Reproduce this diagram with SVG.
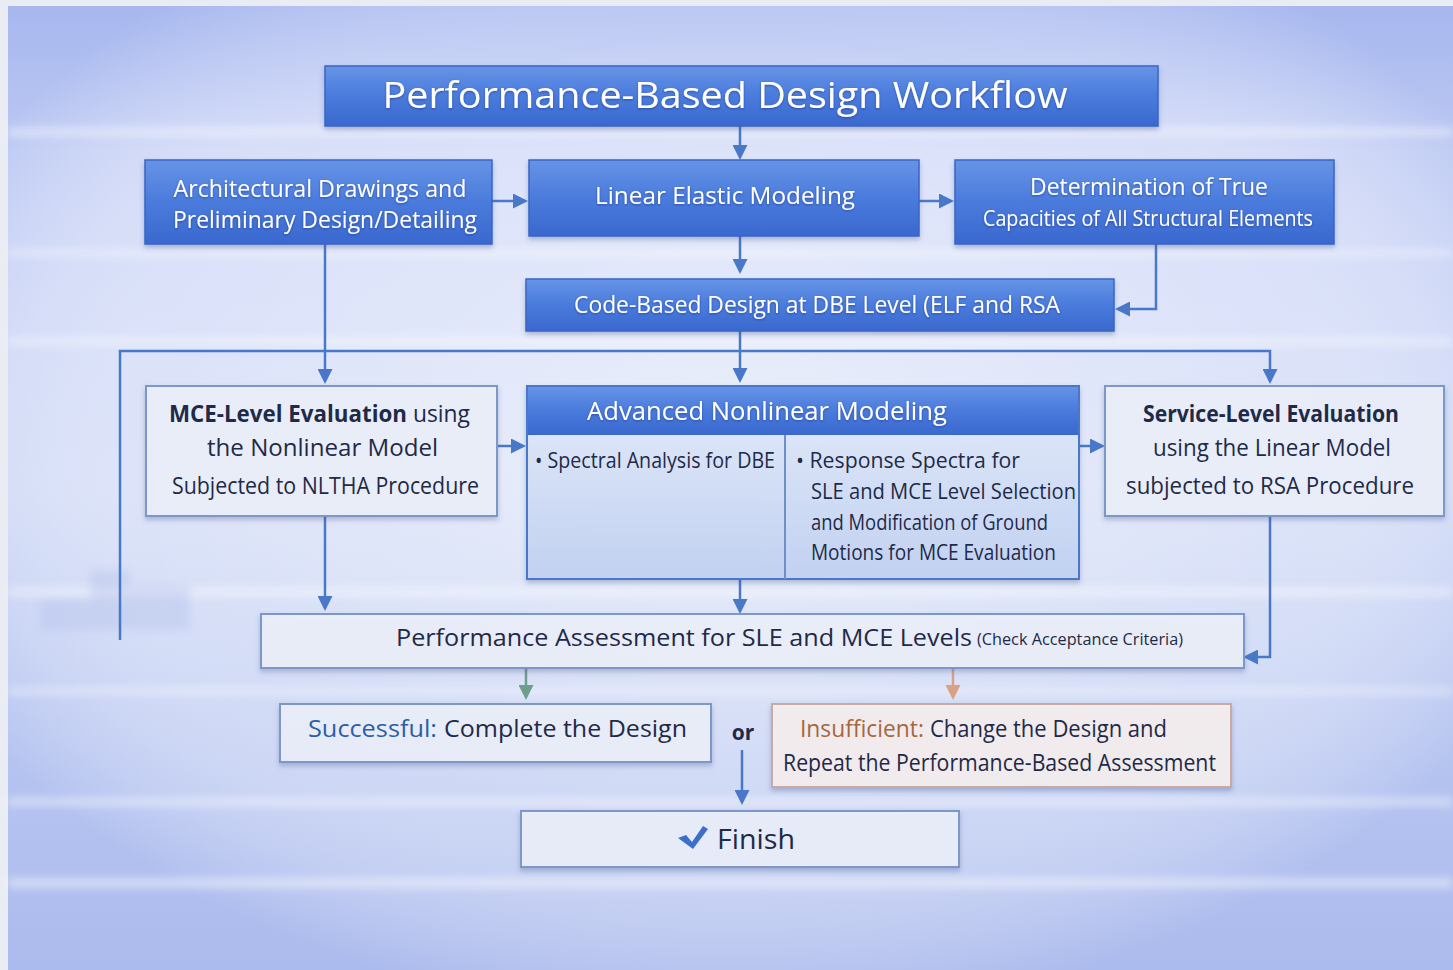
<svg xmlns="http://www.w3.org/2000/svg" width="1453" height="970" viewBox="0 0 1453 970">
<defs>
<linearGradient id="bg" x1="0" y1="0" x2="0" y2="1">
<stop offset="0" stop-color="#b4c2f2"/>
<stop offset="0.15" stop-color="#d4dcf8"/>
<stop offset="0.5" stop-color="#d9e1f8"/>
<stop offset="0.8" stop-color="#c9d4f4"/>
<stop offset="1" stop-color="#bcc8f0"/>
</linearGradient>
<radialGradient id="glow" cx="0.5" cy="0.45" r="0.6">
<stop offset="0" stop-color="#ffffff" stop-opacity="0.45"/>
<stop offset="0.7" stop-color="#ffffff" stop-opacity="0.1"/>
<stop offset="1" stop-color="#8fa3e8" stop-opacity="0.35"/>
</radialGradient>
<linearGradient id="blue" x1="0" y1="0" x2="0" y2="1">
<stop offset="0" stop-color="#6694e6"/>
<stop offset="0.5" stop-color="#4a7bdc"/>
<stop offset="1" stop-color="#3a68cf"/>
</linearGradient>
<linearGradient id="body" x1="0" y1="0" x2="0" y2="1">
<stop offset="0" stop-color="#e6edfb" stop-opacity="0.95"/>
<stop offset="1" stop-color="#c2d3f4" stop-opacity="0.85"/>
</linearGradient>
<filter id="sh" x="-5%" y="-10%" width="110%" height="130%">
<feDropShadow dx="0" dy="3" stdDeviation="2.5" flood-color="#3a4f8a" flood-opacity="0.35"/>
</filter>
<filter id="ts" x="-5%" y="-20%" width="110%" height="140%">
<feDropShadow dx="0" dy="1" stdDeviation="1" flood-color="#1a3680" flood-opacity="0.6"/>
</filter>
<filter id="blur" x="-10%" y="-200%" width="120%" height="500%">
<feGaussianBlur stdDeviation="4"/>
</filter>
<marker id="ah" viewBox="0 0 10 10" refX="8" refY="5" markerWidth="6" markerHeight="6" orient="auto" markerUnits="strokeWidth">
<path d="M0,0 L10,5 L0,10 z" fill="#4a78c8"/>
</marker>
<marker id="ahg" viewBox="0 0 10 10" refX="8" refY="5" markerWidth="6" markerHeight="6" orient="auto" markerUnits="strokeWidth">
<path d="M0,0 L10,5 L0,10 z" fill="#6e9e8c"/>
</marker>
<marker id="aho" viewBox="0 0 10 10" refX="8" refY="5" markerWidth="6" markerHeight="6" orient="auto" markerUnits="strokeWidth">
<path d="M0,0 L10,5 L0,10 z" fill="#d9a285"/>
</marker>
</defs>
<style>
.bx{fill:url(#blue);stroke:#3a66c4;stroke-width:1.5;filter:url(#sh)}
.wb{fill:#eef2fc;fill-opacity:0.85;stroke:#7d98c8;stroke-width:2;filter:url(#sh)}
.wt{font-family:"Open Sans","Noto Sans",sans-serif;fill:#ffffff;filter:url(#ts)}
.dt{font-family:"Open Sans","Noto Sans",sans-serif;fill:#1f2a48}
.b{font-weight:bold}
.cn{fill:none;stroke:#4a78c8;stroke-width:2.5}
</style>
<rect x="0" y="0" width="1453" height="970" fill="#e9edf3"/>
<rect x="8" y="6" width="1445" height="964" fill="url(#bg)"/>
<rect x="8" y="6" width="1445" height="964" fill="url(#glow)"/>
<g fill="#ffffff" opacity="0.45" filter="url(#blur)">
<rect x="8" y="128" width="1445" height="8"/>
<rect x="8" y="250" width="1445" height="6"/>
<rect x="8" y="338" width="1445" height="7"/>
<rect x="8" y="588" width="1445" height="8"/>
<rect x="8" y="688" width="1445" height="6"/>
<rect x="8" y="798" width="1445" height="8"/>
<rect x="8" y="878" width="1445" height="10"/>
</g>
<g fill="#a9b8e6" opacity="0.3" filter="url(#blur)">
<rect x="90" y="570" width="40" height="60"/>
<rect x="130" y="585" width="60" height="45"/>
<rect x="40" y="600" width="50" height="30"/>
</g>

<g id="connectors">
<path class="cn" d="M740,126 V157" marker-end="url(#ah)"/>
<path class="cn" d="M492,201 H525" marker-end="url(#ah)"/>
<path class="cn" d="M919,201 H951" marker-end="url(#ah)"/>
<path class="cn" d="M740,236 V271" marker-end="url(#ah)"/>
<path class="cn" d="M1156,244 V309 H1118" marker-end="url(#ah)"/>
<path class="cn" d="M740,331 V380" marker-end="url(#ah)"/>
<path class="cn" d="M120,640 V351 H1270 V381" marker-end="url(#ah)"/>
<path class="cn" d="M325,244 V381" marker-end="url(#ah)"/>
<path class="cn" d="M497,446 H523" marker-end="url(#ah)"/>
<path class="cn" d="M1079,446 H1102" marker-end="url(#ah)"/>
<path class="cn" d="M325,516 V608" marker-end="url(#ah)"/>
<path class="cn" d="M740,579 V611" marker-end="url(#ah)"/>
<path class="cn" d="M1270,516 V657 H1246" marker-end="url(#ah)"/>
<path class="cn" d="M526,668 V697" style="stroke:#6e9e8c" marker-end="url(#ahg)"/>
<path class="cn" d="M953,668 V697" style="stroke:#d9a285" marker-end="url(#aho)"/>
<path class="cn" d="M742,750 V802" marker-end="url(#ah)"/>
</g>

<g id="title">
<rect class="bx" x="325" y="66" width="833" height="60"/>
<text class="wt" x="725" y="108" font-size="36" text-anchor="middle" textLength="685" lengthAdjust="spacingAndGlyphs">Performance-Based Design Workflow</text>
</g>

<g id="architectural">
<rect class="bx" x="145" y="160" width="347" height="84"/>
<text class="wt" x="320" y="197" font-size="24" text-anchor="middle" textLength="293" lengthAdjust="spacingAndGlyphs">Architectural Drawings and</text>
<text class="wt" x="325" y="228" font-size="24" text-anchor="middle" textLength="304" lengthAdjust="spacingAndGlyphs">Preliminary Design/Detailing</text>
</g>

<g id="linear-elastic">
<rect class="bx" x="529" y="160" width="390" height="76"/>
<text class="wt" x="725" y="204" font-size="24" text-anchor="middle" textLength="260" lengthAdjust="spacingAndGlyphs">Linear Elastic Modeling</text>
</g>

<g id="capacities">
<rect class="bx" x="955" y="160" width="379" height="84"/>
<text class="wt" x="1149" y="195" font-size="23" text-anchor="middle" textLength="238" lengthAdjust="spacingAndGlyphs">Determination of True</text>
<text class="wt" x="1148" y="226" font-size="22" text-anchor="middle" textLength="330" lengthAdjust="spacingAndGlyphs">Capacities of All Structural Elements</text>
</g>

<g id="code-based">
<rect class="bx" x="526" y="279" width="588" height="52"/>
<text class="wt" x="817" y="313" font-size="24" text-anchor="middle" textLength="486" lengthAdjust="spacingAndGlyphs">Code-Based Design at DBE Level (ELF and RSA</text>
</g>

<g id="mce-evaluation">
<rect class="wb" x="146" y="386" width="351" height="130"/>
<text class="dt b" x="169" y="422" font-size="23" textLength="238" lengthAdjust="spacingAndGlyphs">MCE-Level Evaluation</text>
<text class="dt" x="413" y="422" font-size="23" textLength="57" lengthAdjust="spacingAndGlyphs">using</text>
<text class="dt" x="207" y="456" font-size="24" textLength="231" lengthAdjust="spacingAndGlyphs">the Nonlinear Model</text>
<text class="dt" x="172" y="494" font-size="23" textLength="307" lengthAdjust="spacingAndGlyphs">Subjected to NLTHA Procedure</text>
</g>

<g id="advanced-nonlinear">
<rect x="527" y="386" width="552" height="193" fill="url(#body)" stroke="#4a78c8" stroke-width="2" filter="url(#sh)"/>
<rect x="527" y="386" width="552" height="49" fill="url(#blue)"/>
<rect x="527" y="386" width="552" height="193" fill="none" stroke="#4a78c8" stroke-width="2"/>
<line x1="785" y1="435" x2="785" y2="579" stroke="#6f8fc8" stroke-width="2"/>
<text class="wt" x="587" y="420" font-size="25" textLength="360" lengthAdjust="spacingAndGlyphs">Advanced Nonlinear Modeling</text>
<text class="dt" x="535" y="468" font-size="21" textLength="240" lengthAdjust="spacingAndGlyphs">• Spectral Analysis for DBE</text>
<text class="dt" x="796" y="468" font-size="21" textLength="224" lengthAdjust="spacingAndGlyphs">• Response Spectra for</text>
<text class="dt" x="811" y="499" font-size="21" textLength="265" lengthAdjust="spacingAndGlyphs">SLE and MCE Level Selection</text>
<text class="dt" x="811" y="530" font-size="21" textLength="237" lengthAdjust="spacingAndGlyphs">and Modification of Ground</text>
<text class="dt" x="811" y="560" font-size="21" textLength="245" lengthAdjust="spacingAndGlyphs">Motions for MCE Evaluation</text>
</g>

<g id="service-level">
<rect class="wb" x="1105" y="386" width="339" height="130"/>
<text class="dt b" x="1271" y="422" font-size="23" text-anchor="middle" textLength="256" lengthAdjust="spacingAndGlyphs">Service-Level Evaluation</text>
<text class="dt" x="1272" y="456" font-size="24" text-anchor="middle" textLength="238" lengthAdjust="spacingAndGlyphs">using the Linear Model</text>
<text class="dt" x="1270" y="494" font-size="23" text-anchor="middle" textLength="288" lengthAdjust="spacingAndGlyphs">subjected to RSA Procedure</text>
</g>

<g id="performance-assessment">
<rect class="wb" x="261" y="614" width="983" height="54"/>
<text class="dt" x="396" y="646" font-size="24" textLength="576" lengthAdjust="spacingAndGlyphs">Performance Assessment for SLE and MCE Levels</text>
<text class="dt" x="977" y="645" font-size="17" textLength="206" lengthAdjust="spacingAndGlyphs">(Check Acceptance Criteria)</text>
</g>

<g id="successful">
<rect class="wb" x="280" y="704" width="431" height="58"/>
<text class="dt" x="308" y="737" font-size="24" textLength="129" lengthAdjust="spacingAndGlyphs" style="fill:#2c5ea8">Successful:</text>
<text class="dt" x="444" y="737" font-size="24" textLength="243" lengthAdjust="spacingAndGlyphs">Complete the Design</text>
</g>

<text id="or" class="dt b" x="743" y="740" font-size="21" text-anchor="middle">or</text>

<g id="insufficient">
<rect x="772" y="704" width="459" height="83" fill="#f6f0f0" fill-opacity="0.9" stroke="#c9aaa2" stroke-width="2" filter="url(#sh)"/>
<text class="dt" x="800" y="737" font-size="23" textLength="124" lengthAdjust="spacingAndGlyphs" style="fill:#a4683e">Insufficient:</text>
<text class="dt" x="930" y="737" font-size="23" textLength="237" lengthAdjust="spacingAndGlyphs">Change the Design and</text>
<text class="dt" x="783" y="771" font-size="23" textLength="433" lengthAdjust="spacingAndGlyphs">Repeat the Performance-Based Assessment</text>
</g>

<g id="finish">
<rect class="wb" x="521" y="811" width="438" height="56"/>
<path d="M678,838 L686,835 L692,842 L703,826 L708,829 L693,849 Z" fill="#3b6fc8"/>
<text class="dt" x="717" y="849" font-size="28" textLength="78" lengthAdjust="spacingAndGlyphs">Finish</text>
</g>
</svg>
